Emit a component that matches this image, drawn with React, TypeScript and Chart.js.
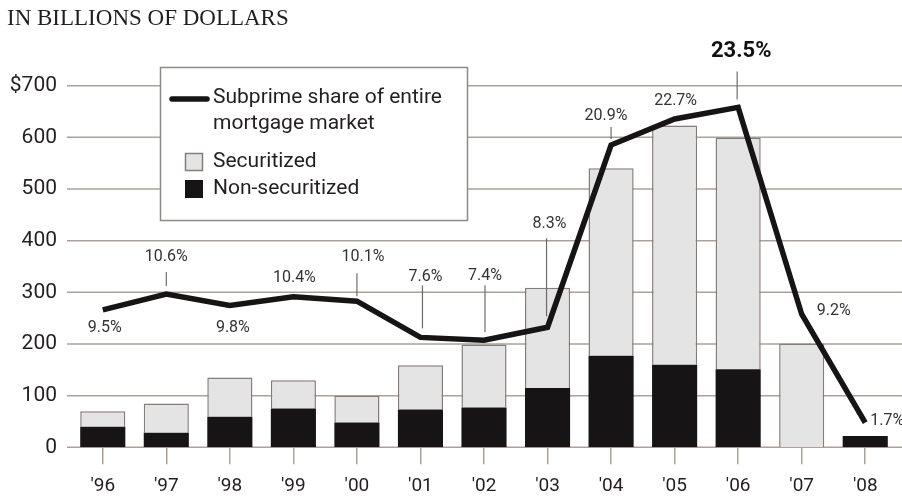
import React, { useEffect, useRef } from 'react';
import { Chart, registerables } from 'chart.js';

Chart.register(...registerables);

// ---- data ----
const years = ["'96", "'97", "'98", "'99", "'00", "'01", "'02", "'03", "'04", "'05", "'06", "'07", "'08"];
const nonSecuritized = [40, 28, 59, 75, 48, 73, 77, 115, 177, 160, 151, 0, 22];
const securitized = [30, 57, 76, 55, 52, 86, 122, 194, 363, 463, 448, 201, 0];
const subprimeShare = [9.5, 10.6, 9.8, 10.4, 10.1, 7.6, 7.4, 8.3, 20.9, 22.7, 23.5, 9.2, 1.7];
const yTicks = [0, 100, 200, 300, 400, 500, 600, 700];
const titleText = 'IN BILLIONS OF DOLLARS';
const lineLegend = ['Subprime share of entire', 'mortgage market'];
const securitizedLabel = 'Securitized';
const nonSecuritizedLabel = 'Non-securitized';
const peakIndex = 10;

// ---- label layout (offsets from the point, in px) ----
// [dx, dy, leaderFrom, leaderTo, leaderDx, align]
const labelLayout: [number, number, number | null, number | null, number, string][] = [
  [2, 18, null, null, 0, 'center'],
  [0, -37, -22, -8, 0, 'center'],
  [3, 22, null, null, 0, 'center'],
  [1, -19, null, null, 0, 'center'],
  [6, -44, -28, -5, 0, 'center'],
  [5, -60, -52, -9, 2, 'center'],
  [1, -64, -55, -8, 1, 'center'],
  [2, -103, -89, -11, -1, 'center'],
  [-5, -29, -18, -6, 0, 'center'],
  [1, -18, null, null, 0, 'center'],
  [3, -56, -36, -8, -1, 'center'],
  [32, -3, null, null, 0, 'center'],
  [5, -2, null, null, 0, 'left'],
];

const TEXT = '#231f20';
const GRID = '#aaa19d';
const BAR_EDGE = '#857d7a';
const LIGHT = '#e4e4e4';
const DARK = '#161414';
const FONT = 'Roboto';

const decorPlugin = {
  id: 'decor',
  beforeDatasetsDraw(chart: any) {
    const ctx = chart.ctx;
    const y = chart.scales.y;
    ctx.save();
    ctx.strokeStyle = GRID;
    ctx.lineWidth = 1.5;
    yTicks.forEach((v) => {
      const py = y.getPixelForValue(v);
      ctx.beginPath();
      ctx.moveTo(67, py);
      ctx.lineTo(chart.width, py);
      ctx.stroke();
    });
    // legend box
    const bx = 160.5, by = 67.5, bw = 307, bh = 153;
    ctx.fillStyle = '#ffffff';
    ctx.fillRect(bx, by, bw, bh);
    ctx.strokeStyle = '#8f8a88';
    ctx.lineWidth = 1.5;
    ctx.strokeRect(bx, by, bw, bh);
    // line sample
    ctx.strokeStyle = DARK;
    ctx.lineWidth = 5.5;
    ctx.lineCap = 'round';
    ctx.beginPath();
    ctx.moveTo(172, 99);
    ctx.lineTo(207, 99);
    ctx.stroke();
    ctx.lineCap = 'butt';
    ctx.fillStyle = TEXT;
    ctx.font = `21px ${FONT}`;
    ctx.textAlign = 'left';
    ctx.textBaseline = 'middle';
    ctx.fillText(lineLegend[0], 213, 98);
    ctx.fillText(lineLegend[1], 213, 124);
    // squares
    ctx.fillStyle = LIGHT;
    ctx.fillRect(185.5, 153.5, 17, 17);
    ctx.strokeStyle = BAR_EDGE;
    ctx.lineWidth = 1.5;
    ctx.strokeRect(185.5, 153.5, 17, 17);
    ctx.fillStyle = DARK;
    ctx.fillRect(185, 180, 18, 18);
    ctx.fillStyle = TEXT;
    ctx.fillText(securitizedLabel, 213, 162);
    ctx.fillText(nonSecuritizedLabel, 213, 189);
    ctx.restore();
  },
  afterDatasetsDraw(chart: any) {
    const ctx = chart.ctx;
    const x = chart.scales.x;
    const y1 = chart.scales.y1;
    ctx.save();
    subprimeShare.forEach((v, i) => {
      const px = x.getPixelForValue(i);
      const py = y1.getPixelForValue(v);
      const [dx, dy, lf, lt, ldx, align] = labelLayout[i];
      if (lf !== null && lt !== null) {
        ctx.strokeStyle = '#6f6a68';
        ctx.lineWidth = 1.2;
        ctx.beginPath();
        ctx.moveTo(px + ldx, py + lf);
        ctx.lineTo(px + ldx, py + lt);
        ctx.stroke();
      }
      ctx.fillStyle = i === peakIndex ? '#111' : '#333';
      ctx.font = i === peakIndex ? `bold 22px ${FONT}` : `16px ${FONT}`;
      ctx.textAlign = align as CanvasTextAlign;
      ctx.textBaseline = 'middle';
      ctx.fillText(v.toFixed(1) + '%', px + dx, py + dy);
    });
    ctx.restore();
  },
  afterDraw(chart: any) {
    const ctx = chart.ctx;
    ctx.save();
    ctx.fillStyle = TEXT;
    ctx.font = '23px "Liberation Serif"';
    ctx.textAlign = 'left';
    ctx.textBaseline = 'alphabetic';
    ctx.fillText(titleText, 7, 25);
    ctx.restore();
  },
};

export default function App() {
  const canvasRef = useRef<HTMLCanvasElement | null>(null);

  useEffect(() => {
    document.body.style.margin = '0';
    const canvas = canvasRef.current;
    if (!canvas) return;
    const chart = new Chart(canvas, {
      type: 'bar',
      data: {
        labels: years,
        datasets: [
          {
            type: 'line',
            label: lineLegend.join(' '),
            data: subprimeShare,
            yAxisID: 'y1',
            borderColor: DARK,
            borderWidth: 5.5,
            pointRadius: 0,
            tension: 0,
            borderJoinStyle: 'miter',
            borderCapStyle: 'butt',
            order: 0,
          } as any,
          {
            label: nonSecuritizedLabel,
            data: nonSecuritized,
            backgroundColor: DARK,
            borderColor: DARK,
            borderWidth: 0,
            stack: 's',
            yAxisID: 'y',
            order: 1,
            barPercentage: 0.71,
            categoryPercentage: 1,
          },
          {
            label: securitizedLabel,
            data: securitized,
            backgroundColor: LIGHT,
            borderColor: BAR_EDGE,
            borderWidth: 1.5,
            borderSkipped: 'start',
            stack: 's',
            yAxisID: 'y',
            order: 1,
            barPercentage: 0.71,
            categoryPercentage: 1,
          },
        ],
      },
      options: {
        animation: false,
        responsive: true,
        maintainAspectRatio: false,
        layout: { padding: { top: 85.7, right: 5, left: 0, bottom: 0 } },
        plugins: { legend: { display: false }, tooltip: { enabled: false }, title: { display: false } },
        scales: {
          x: {
            stacked: true,
            offset: true,
            grid: {
              display: true,
              drawOnChartArea: false,
              drawTicks: true,
              tickLength: 17,
              offset: false,
              color: GRID,
              lineWidth: 1.5,
            },
            border: { display: false },
            ticks: {
              color: TEXT,
              font: { family: FONT, size: 19 },
              padding: 11,
              autoSkip: false,
              maxRotation: 0,
            },
            afterFit: (s: any) => {
              s.height = 50.7;
            },
          },
          y: {
            stacked: true,
            min: 0,
            max: 700,
            grid: { display: false, drawTicks: false },
            border: { display: false },
            afterBuildTicks: (s: any) => {
              s.ticks = yTicks.map((v) => ({ value: v }));
            },
            ticks: {
              color: TEXT,
              font: { family: FONT, size: 21 },
              padding: 14,
              callback: (v: any) => (v === 700 ? '$' + v : String(v)),
            },
            afterFit: (s: any) => {
              s.width = 71;
            },
          },
          y1: {
            display: false,
            min: 0,
            max: 25,
          },
        },
      },
      plugins: [decorPlugin],
    });
    return () => chart.destroy();
  }, []);

  return (
    <div style={{ width: 902, height: 498, position: 'relative' }}>
      <canvas ref={canvasRef} />
    </div>
  );
}
